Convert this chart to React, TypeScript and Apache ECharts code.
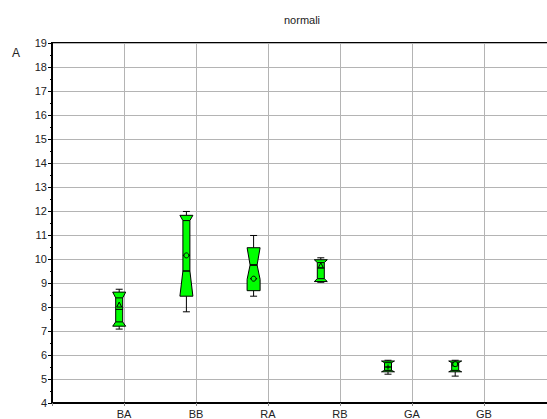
import React, { useEffect, useRef } from "react";
import * as echarts from "echarts";

// Groups shown on the category axis
const categories = ["BA", "BB", "RA", "RB", "GA", "GB"];
// Box positions on the plotting scale
const positions = [1, 2, 3, 4, 5, 6];

// Notched box statistics per group
const whiskerHigh = [8.74, 11.98, 10.98, 10.05, 5.78, 5.78];
const q3 = [8.62, 11.82, 10.47, 9.97, 5.75, 5.75];
const shoulderHigh = [8.62, 11.82, 10.47, 9.97, 5.75, 5.75];
const waistHigh = [8.38, 11.6, 9.75, 9.85, 5.68, 5.68];
const median = [7.9, 9.5, 9.75, 9.62, 5.5, 5.55];
const waistLow = [7.38, 9.5, 9.75, 9.18, 5.36, 5.36];
const shoulderLow = [7.2, 8.45, 9.15, 9.06, 5.3, 5.3];
const q1 = [7.2, 8.45, 8.68, 9.06, 5.3, 5.3];
const whiskerLow = [7.08, 7.8, 8.45, 9.03, 5.2, 5.12];
const mean = [8.08, 10.15, 9.18, 9.72, 5.5, 5.62];
const meanSymbol = ["triangle", "circle", "circle", "triangle", "cross", "circle"];

const yTicksMin = 4;
const yTicksMax = 19;

const GREEN = "#00ff00";
const FONT = "Liberation Sans, Arial, sans-serif";

export default function App() {
  const ref = useRef<HTMLDivElement>(null);

  useEffect(() => {
    if (!ref.current) return;
    const chart = echarts.init(ref.current, null, { renderer: "svg" });

    const data = categories.map((_, i) => [
      positions[i],
      whiskerLow[i],
      q1[i],
      shoulderLow[i],
      waistLow[i],
      median[i],
      waistHigh[i],
      shoulderHigh[i],
      q3[i],
      whiskerHigh[i],
      mean[i],
    ]);

    const renderItem = (params: any, api: any) => {
      const i = params.dataIndex;
      const x = api.value(0);
      const cx = api.coord([x, api.value(5)])[0];
      const y = (k: number) => api.coord([x, api.value(k)])[1];
      const hw = 6.5;
      const ind = 3;
      const cap = 3.5;
      const L = cx - hw;
      const R = cx + hw;
      const stroke = { stroke: "#000", lineWidth: 1 };

      const yWL = y(1), yQ1 = y(2), ySL = y(3), yWaL = y(4), yMed = y(5);
      const yWaH = y(6), ySH = y(7), yQ3 = y(8), yWH = y(9), yMean = y(10);

      const children: any[] = [
        // whiskers
        { type: "line", shape: { x1: cx, y1: yWH, x2: cx, y2: yQ3 }, style: stroke },
        { type: "line", shape: { x1: cx - cap, y1: yWH, x2: cx + cap, y2: yWH }, style: stroke },
        { type: "line", shape: { x1: cx, y1: yQ1, x2: cx, y2: yWL }, style: stroke },
        { type: "line", shape: { x1: cx - cap, y1: yWL, x2: cx + cap, y2: yWL }, style: stroke },
        // notched body
        {
          type: "polygon",
          shape: {
            points: [
              [L, yQ3],
              [L, ySH],
              [L + ind, yWaH],
              [L + ind, yWaL],
              [L, ySL],
              [L, yQ1],
              [R, yQ1],
              [R, ySL],
              [R - ind, yWaL],
              [R - ind, yWaH],
              [R, ySH],
              [R, yQ3],
            ],
          },
          style: { fill: GREEN, stroke: "#000", lineWidth: 1 },
        },
        { type: "line", shape: { x1: L + ind, y1: yWaH, x2: R - ind, y2: yWaH }, style: stroke },
        { type: "line", shape: { x1: L + ind, y1: yWaL, x2: R - ind, y2: yWaL }, style: stroke },
        { type: "line", shape: { x1: L + ind, y1: yMed, x2: R - ind, y2: yMed }, style: stroke },
      ];

      const sym = meanSymbol[i];
      const ms = 2.5;
      if (sym === "circle") {
        children.push({ type: "line", shape: { x1: L + ind, y1: yMean, x2: R - ind, y2: yMean }, style: stroke });
        children.push({ type: "circle", shape: { cx, cy: yMean, r: ms }, style: { fill: GREEN, stroke: "#000", lineWidth: 1 } });
      } else if (sym === "triangle") {
        children.push({
          type: "polygon",
          shape: { points: [[cx, yMean - ms - 0.5], [cx - ms, yMean + ms - 0.5], [cx + ms, yMean + ms - 0.5]] },
          style: { fill: GREEN, stroke: "#000", lineWidth: 1 },
        });
      } else {
        children.push({ type: "line", shape: { x1: cx - ms, y1: yMean, x2: cx + ms, y2: yMean }, style: stroke });
        children.push({ type: "line", shape: { x1: cx, y1: yMean - ms, x2: cx, y2: yMean + ms }, style: stroke });
      }

      return { type: "group", children };
    };

    chart.setOption({
      animation: false,
      backgroundColor: "#fff",
      textStyle: { fontFamily: FONT },
      title: {
        text: "normali",
        left: 279,
        top: 9,
        textStyle: { fontSize: 11, fontWeight: "normal", color: "#222", fontFamily: FONT },
      },
      graphic: [
        {
          type: "text",
          left: 12,
          top: 47,
          style: { text: "A", fontSize: 12, fill: "#222", fontFamily: FONT },
        },
      ],
      grid: {
        left: 52,
        right: 4,
        top: 43,
        bottom: 15,
        show: true,
        borderColor: "#000",
        borderWidth: 2,
        backgroundColor: "transparent",
      },
      xAxis: [
        {
          type: "value",
          min: 0,
          max: 7,
          interval: 1,
          position: "bottom",
          axisLine: { show: true, lineStyle: { color: "#000", width: 2 } },
          axisTick: { show: true, length: 3, lineStyle: { color: "#888" } },
          splitLine: { show: true, lineStyle: { color: "#b4b4b4", width: 1 } },
          axisLabel: {
            fontSize: 11,
            color: "#222",
            margin: 5,
            fontFamily: FONT,
            formatter: (v: number) => categories[v - 1] ?? "",
          },
        },
        {
          type: "value",
          min: 0,
          max: 7.5,
          show: false,
        },
      ],
      yAxis: {
        type: "value",
        min: yTicksMin,
        max: yTicksMax,
        interval: 1,
        axisLine: { show: true, lineStyle: { color: "#000", width: 2 } },
        axisTick: { show: true, length: 4, lineStyle: { color: "#000" } },
        minorTick: { show: true, splitNumber: 2, length: 2, lineStyle: { color: "#000" } },
        splitLine: { show: true, lineStyle: { color: "#b4b4b4", width: 1 } },
        axisLabel: { fontSize: 11, color: "#222", margin: 5, fontFamily: FONT },
      },
      series: [
        {
          type: "custom",
          xAxisIndex: 1,
          yAxisIndex: 0,
          renderItem,
          data,
          clip: false,
        },
      ],
    });

    return () => chart.dispose();
  }, []);

  return (
    <div style={{ position: "fixed", left: 0, top: 0, width: 547, height: 419, overflow: "hidden", background: "#fff" }}>
      <div ref={ref} style={{ width: 560, height: 419 }} />
    </div>
  );
}
